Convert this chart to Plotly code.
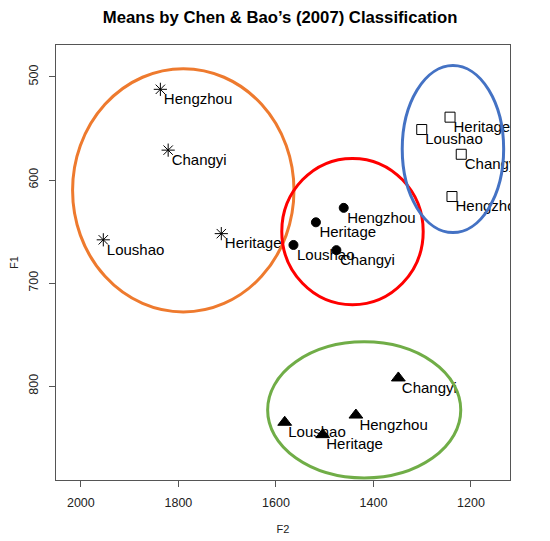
import plotly.graph_objects as go

# group means by classification (F2 on x, F1 on y)
sites = ['Hengzhou', 'Changyi', 'Loushao', 'Heritage']

star_f2 = [1837, 1821, 1954, 1712]
star_f1 = [512, 571, 658, 652]

dot_f2 = [1461, 1476, 1564, 1518]
dot_f1 = [627, 668, 663, 641]

square_f2 = [1239, 1220, 1301, 1243]
square_f1 = [616, 575, 551, 539]

tri_f2 = [1436, 1349, 1582, 1504]
tri_f1 = [828, 792, 835, 847]

# ellipses drawn around each group: centre and half-widths
ell_colors = ['#EE7A2E', '#FF0000', '#4472C4', '#70AD47']
ell_cx = [1790, 1443, 1237, 1419]
ell_cy = [610, 650, 570, 823]
ell_rx = [227, 145, 104, 198]
ell_ry = [118, 71, 81, 66]

font = 'Liberation Sans, Arial, sans-serif'

fig = go.Figure()

groups = [
    (star_f2, star_f1, 'asterisk-open', 11),
    (dot_f2, dot_f1, 'circle', 9),
    (square_f2, square_f1, 'square-open', 10),
    (tri_f2, tri_f1, 'triangle-up', 12),
]
for gx, gy, sym, sz in groups:
    fig.add_trace(go.Scatter(x=gx, y=gy, mode='markers',
                             marker=dict(symbol=sym, size=sz, color='black',
                                         line=dict(color='black', width=1)),
                             cliponaxis=True, showlegend=False))
    # labels hang from the point, like R's text(adj=c(0,1));
    # an invisible small marker sets how far the text sits from the point
    fig.add_trace(go.Scatter(x=gx, y=gy, mode='markers+text', text=sites,
                             textposition='bottom right',
                             textfont=dict(family=font, size=15, color='black'),
                             marker=dict(size=4, opacity=0),
                             cliponaxis=True, showlegend=False))

for c, cx, cy, rx, ry in zip(ell_colors, ell_cx, ell_cy, ell_rx, ell_ry):
    fig.add_shape(type='circle', xref='x', yref='y',
                  x0=cx - rx, x1=cx + rx, y0=cy - ry, y1=cy + ry,
                  line=dict(color=c, width=3))

axis_style = dict(showgrid=False, zeroline=False, showline=True, mirror=True,
                  automargin=False,
                  linecolor='#555555', linewidth=1, ticks='outside', ticklen=6,
                  tickcolor='#555555', tickfont=dict(family=font, size=12.5, color='#222222'))

# page body has an 8px margin, so the figure is 8px smaller than the window
fig.update_layout(
    width=542, height=533,
    margin=dict(l=48, r=40, t=37, b=61),
    plot_bgcolor='white', paper_bgcolor='white',
    title=dict(text='<b>Means by Chen & Bao’s (2007) Classification</b>',
               x=0.502, xanchor='center', y=0.994, yanchor='top', pad=dict(t=0),
               font=dict(family=font, size=16.7, color='black')),
    xaxis=dict(range=[2051, 1120], tickvals=[2000, 1800, 1600, 1400, 1200],
               ticklabelstandoff=5,
               title=dict(text='F2', font=dict(family=font, size=11, color='#222222'), standoff=16),
               **axis_style),
    yaxis=dict(range=[891, 469], tickvals=[500, 600, 700, 800], tickangle=-90,
               ticklabelstandoff=6,
               title=dict(text='F1', font=dict(family=font, size=11, color='#222222'), standoff=12),
               **axis_style),
)

fig.write_html('out.html')
